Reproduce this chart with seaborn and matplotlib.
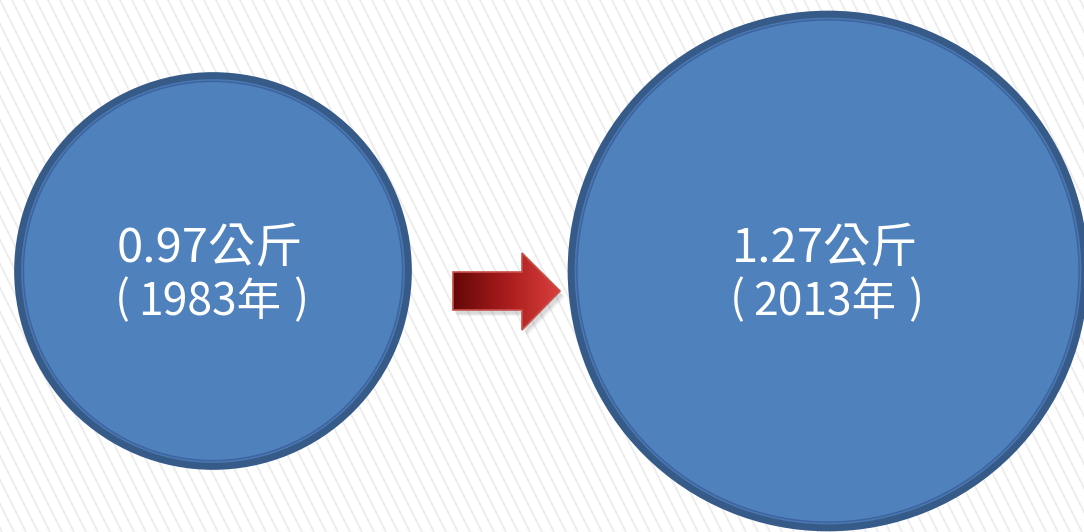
import numpy as np
import pandas as pd
import matplotlib
matplotlib.use("Agg")
import matplotlib.pyplot as plt
from matplotlib.patches import Polygon
import seaborn as sns

# data: average weight per person (kg) in two years
years = ["1983", "2013"]
weights = [0.97, 1.27]
unit = "公斤"

# layout (pixels)
W, H, DPI = 1084, 532, 100
center_x = [213, 828]
center_y = 271
px_per_kg = 205  # radius grows linear with weight

sns.set_theme(style="white")
plt.rcParams["font.family"] = ["Noto Sans CJK TC", "DejaVu Sans"]

df = pd.DataFrame({"year": years, "weight": weights, "x": center_x})
df["y"] = center_y
df["r"] = df["weight"] * px_per_kg

fig = plt.figure(figsize=(W / DPI, H / DPI), dpi=DPI)
ax = fig.add_axes([0, 0, 1, 1])
ax.set_xlim(0, W)
ax.set_ylim(H, 0)
ax.axis("off")

# background diagonal stripes
for x0 in np.arange(-300, W + 20, 12):
    ax.plot([x0, x0 + 0.5 * H], [0, H], color="#ececec", lw=1.3, zorder=0)

# circles: outer dark ring, thin light line, inner dark line, fill
def pt_size(r_px):
    return (2 * r_px * 72 / DPI) ** 2

layers = [(0, "#375b89"), (7, "#4a78b0"), (8.5, "#3d64a0"), (10, "#4f81bd")]
for inset, col in layers:
    d = df.copy()
    d["s"] = pt_size(d["r"] - inset)
    sns.scatterplot(data=d, x="x", y="y", size="s", sizes=(d["s"].min(), d["s"].max()),
                    color=col, linewidth=0, legend=False, ax=ax, zorder=2)

# labels
txt = dict(color="white", fontsize=32, ha="center", va="center", zorder=5)
for _, row in df.iterrows():
    ax.text(row["x"] - 3, row["y"] - 23, f"{row['weight']:.2f}{unit}", color="white",
            fontsize=34, ha="center", va="center", zorder=5)
    ax.text(row["x"] - 3, row["y"] + 31, f"{row['year']}年", **txt)
    ax.text(row["x"] - 91, row["y"] + 29, "(", **txt)
    ax.text(row["x"] + 88, row["y"] + 29, ")", **txt)

# arrow with red gradient
arrow = np.array([[453, 272], [522, 272], [522, 253], [560, 291],
                  [522, 330], [522, 310], [453, 310]])
for k, a in enumerate([0.06, 0.05, 0.04]):
    sh = Polygon(arrow + [3 + k, 4 + k], closed=True, color="black", alpha=a, lw=0, zorder=3)
    ax.add_patch(sh)
poly = Polygon(arrow, closed=True, facecolor="none", edgecolor="#c8504b", lw=1.2, zorder=4.5)
ax.add_patch(poly)
grad = np.linspace(0, 1, 256).reshape(1, -1)
cmap = matplotlib.colors.LinearSegmentedColormap.from_list("red", ["#650808", "#a81c1c", "#d9403d"])
im = ax.imshow(grad, cmap=cmap, extent=[453, 560, 330, 253], aspect="auto", zorder=4)
im.set_clip_path(poly)
ax.set_xlim(0, W)
ax.set_ylim(H, 0)

fig.savefig("out.png", dpi=DPI)
